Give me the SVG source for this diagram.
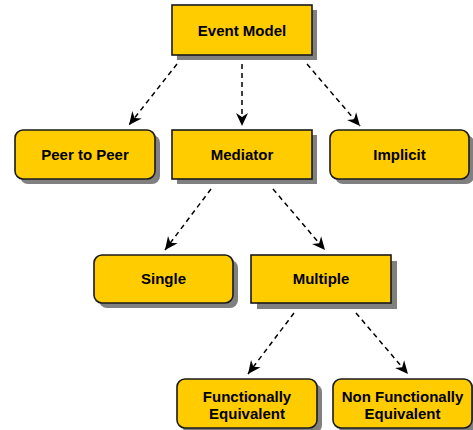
<svg xmlns="http://www.w3.org/2000/svg" width="473" height="430" viewBox="0 0 473 430">
<style>
.box{fill:#FFCC00;stroke:#1a1a1a;stroke-width:1.6}
.sh{fill:#808080}
.t{font-family:"Liberation Sans",Arial,sans-serif;font-weight:bold;font-size:15px;fill:#000;text-anchor:middle}
.c{stroke:#000;stroke-width:1.5;stroke-dasharray:5,4;fill:none;marker-end:url(#ah)}
</style>
<defs>
<marker id="ah" markerWidth="14" markerHeight="14" viewBox="0 0 14 14" refX="13" refY="7" orient="auto" markerUnits="userSpaceOnUse">
<path d="M0,1 L13,7 L0,13 L4,7 Z" fill="#000"/>
</marker>
</defs>
<rect width="473" height="430" fill="#fff"/>
<g id="connectors">
<line class="c" x1="177" y1="64" x2="129" y2="125"/>
<line class="c" x1="242" y1="64" x2="242" y2="126"/>
<line class="c" x1="307" y1="64" x2="360" y2="126"/>
<line class="c" x1="211" y1="189" x2="165" y2="250"/>
<line class="c" x1="273" y1="189" x2="325" y2="250"/>
<line class="c" x1="294" y1="313" x2="248" y2="374"/>
<line class="c" x1="356" y1="313" x2="408" y2="374"/>
</g>
<g id="event-model">
<rect class="sh" x="177" y="10" width="140" height="50"/>
<rect class="box" x="172" y="5" width="140" height="50"/>
<text class="t" x="242" y="35.5">Event Model</text>
</g>
<g id="peer-to-peer">
<rect class="sh" x="20" y="135" width="140" height="49" rx="8"/>
<rect class="box" x="15" y="130" width="140" height="49" rx="8"/>
<text class="t" x="85" y="159.5">Peer to Peer</text>
</g>
<g id="mediator">
<rect class="sh" x="177" y="135" width="140" height="49"/>
<rect class="box" x="172" y="130" width="140" height="49"/>
<text class="t" x="242" y="159.5">Mediator</text>
</g>
<g id="implicit">
<rect class="sh" x="335" y="135" width="139" height="49" rx="8"/>
<rect class="box" x="330" y="130" width="139" height="49" rx="8"/>
<text class="t" x="399.5" y="159.5">Implicit</text>
</g>
<g id="single">
<rect class="sh" x="99" y="260" width="139" height="48" rx="8"/>
<rect class="box" x="94" y="255" width="139" height="48" rx="8"/>
<text class="t" x="163.5" y="284">Single</text>
</g>
<g id="multiple">
<rect class="sh" x="257" y="261" width="140" height="48"/>
<rect class="box" x="251" y="255" width="140" height="48"/>
<text class="t" x="321" y="284">Multiple</text>
</g>
<g id="functionally-equivalent">
<rect class="sh" x="182" y="384" width="140" height="49" rx="8"/>
<rect class="box" x="177" y="379" width="140" height="49" rx="8"/>
<text class="t" x="247" y="402">Functionally</text>
<text class="t" x="247" y="419">Equivalent</text>
</g>
<g id="non-functionally-equivalent">
<rect class="sh" x="338" y="384" width="139" height="49" rx="8"/>
<rect class="box" x="333" y="379" width="139" height="49" rx="8"/>
<text class="t" x="402.5" y="402">Non Functionally</text>
<text class="t" x="402.5" y="419">Equivalent</text>
</g>
</svg>
